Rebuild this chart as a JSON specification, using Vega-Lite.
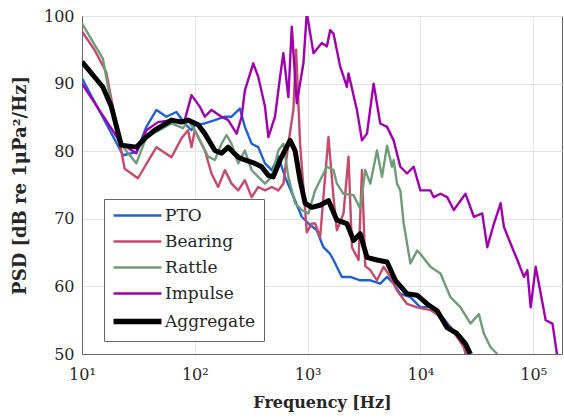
{
"$schema": "https://vega.github.io/schema/vega-lite/v6.json",
"width": 480, "height": 338,
"autosize": {"type": "none"},
"padding": {"left": 82, "top": 16, "right": 2, "bottom": 65},
"data": {"values": [
{"s":"PTO","f":10,"v":90.8},{"s":"PTO","f":23.1,"v":79.4},{"s":"PTO","f":27.4,"v":79.7},{"s":"PTO","f":30.3,"v":79.9},{"s":"PTO","f":37.2,"v":83.6},{"s":"PTO","f":45.7,"v":86.1},{"s":"PTO","f":56,"v":85.1},{"s":"PTO","f":68.7,"v":85.8},{"s":"PTO","f":81.5,"v":84.1},{"s":"PTO","f":93.5,"v":83.1},{"s":"PTO","f":100,"v":83.9},{"s":"PTO","f":122.7,"v":84.1},{"s":"PTO","f":150.6,"v":84.6},{"s":"PTO","f":184.8,"v":85.1},{"s":"PTO","f":211.7,"v":85.1},{"s":"PTO","f":251,"v":86.3},{"s":"PTO","f":278,"v":83.6},{"s":"PTO","f":319,"v":81.1},{"s":"PTO","f":365,"v":80.6},{"s":"PTO","f":419,"v":78.2},{"s":"PTO","f":481,"v":77.2},{"s":"PTO","f":550,"v":79.2},{"s":"PTO","f":631,"v":76.2},{"s":"PTO","f":774,"v":72.7},{"s":"PTO","f":888,"v":70.3},{"s":"PTO","f":1017,"v":69.3},{"s":"PTO","f":1207,"v":68.3},{"s":"PTO","f":1381,"v":65.8},{"s":"PTO","f":1585,"v":64.8},{"s":"PTO","f":1696,"v":63.9},{"s":"PTO","f":2014,"v":61.4},{"s":"PTO","f":2386,"v":61.4},{"s":"PTO","f":2928,"v":60.9},{"s":"PTO","f":3597,"v":60.9},{"s":"PTO","f":4406,"v":60.4},{"s":"PTO","f":5062,"v":61.4},{"s":"PTO","f":5790,"v":60.4},{"s":"PTO","f":6640,"v":58.9},{"s":"PTO","f":8150,"v":58.4},{"s":"PTO","f":10000,"v":56.9},{"s":"PTO","f":12270,"v":57.0},{"s":"PTO","f":15060,"v":55.8},{"s":"PTO","f":18480,"v":54.0},{"s":"PTO","f":21190,"v":52.6},{"s":"PTO","f":25120,"v":51.0},{"s":"PTO","f":26000,"v":50.0},
{"s":"Bearing","f":10,"v":97.7},{"s":"Bearing","f":12.9,"v":95},{"s":"Bearing","f":16.4,"v":91.7},{"s":"Bearing","f":23.9,"v":77.4},{"s":"Bearing","f":31.3,"v":76.0},{"s":"Bearing","f":45.7,"v":80.6},{"s":"Bearing","f":62.1,"v":79.1},{"s":"Bearing","f":76.2,"v":81.9},{"s":"Bearing","f":87.1,"v":83.1},{"s":"Bearing","f":93.5,"v":80.6},{"s":"Bearing","f":100,"v":83.1},{"s":"Bearing","f":122.7,"v":80.1},{"s":"Bearing","f":140.6,"v":76.7},{"s":"Bearing","f":161,"v":74.7},{"s":"Bearing","f":184.8,"v":77.2},{"s":"Bearing","f":211.7,"v":75.2},{"s":"Bearing","f":242.7,"v":74.2},{"s":"Bearing","f":278,"v":75.7},{"s":"Bearing","f":319,"v":73.2},{"s":"Bearing","f":365,"v":74.7},{"s":"Bearing","f":419,"v":74.2},{"s":"Bearing","f":481,"v":74.7},{"s":"Bearing","f":550,"v":74.2},{"s":"Bearing","f":610,"v":75.2},{"s":"Bearing","f":675,"v":81.1},{"s":"Bearing","f":748,"v":86.1},{"s":"Bearing","f":791,"v":95.0},{"s":"Bearing","f":858,"v":81.1},{"s":"Bearing","f":951,"v":71.3},{"s":"Bearing","f":984,"v":68.0},{"s":"Bearing","f":1089,"v":69.3},{"s":"Bearing","f":1166,"v":69.3},{"s":"Bearing","f":1292,"v":67.3},{"s":"Bearing","f":1381,"v":73.2},{"s":"Bearing","f":1531,"v":82.1},{"s":"Bearing","f":1696,"v":73.2},{"s":"Bearing","f":1818,"v":68.3},{"s":"Bearing","f":2082,"v":70.8},{"s":"Bearing","f":2305,"v":79.2},{"s":"Bearing","f":2471,"v":65.8},{"s":"Bearing","f":2831,"v":63.9},{"s":"Bearing","f":3033,"v":77.2},{"s":"Bearing","f":3245,"v":63.0},{"s":"Bearing","f":3597,"v":62.4},{"s":"Bearing","f":4121,"v":60.9},{"s":"Bearing","f":4724,"v":62.9},{"s":"Bearing","f":5411,"v":61.4},{"s":"Bearing","f":6206,"v":59.4},{"s":"Bearing","f":7620,"v":57.4},{"s":"Bearing","f":9352,"v":56.9},{"s":"Bearing","f":12270,"v":56.5},{"s":"Bearing","f":15060,"v":55.5},{"s":"Bearing","f":18480,"v":53.8},{"s":"Bearing","f":21190,"v":52.5},{"s":"Bearing","f":24270,"v":51.0},{"s":"Bearing","f":25120,"v":50.0},
{"s":"Rattle","f":10,"v":98.9},{"s":"Rattle","f":15.3,"v":93.7},{"s":"Rattle","f":20.8,"v":81.6},{"s":"Rattle","f":30.3,"v":78.2},{"s":"Rattle","f":37.2,"v":82.1},{"s":"Rattle","f":45.7,"v":82.9},{"s":"Rattle","f":62.1,"v":84.1},{"s":"Rattle","f":78.7,"v":83.4},{"s":"Rattle","f":87.1,"v":84.6},{"s":"Rattle","f":100,"v":83.1},{"s":"Rattle","f":114.7,"v":81.1},{"s":"Rattle","f":131.3,"v":79.2},{"s":"Rattle","f":150.6,"v":78.7},{"s":"Rattle","f":172.6,"v":81.1},{"s":"Rattle","f":191,"v":82.4},{"s":"Rattle","f":211.7,"v":81.1},{"s":"Rattle","f":242.7,"v":78.2},{"s":"Rattle","f":278,"v":80.1},{"s":"Rattle","f":319,"v":77.2},{"s":"Rattle","f":365,"v":76.2},{"s":"Rattle","f":419,"v":75.2},{"s":"Rattle","f":481,"v":76.2},{"s":"Rattle","f":550,"v":80.1},{"s":"Rattle","f":610,"v":81.1},{"s":"Rattle","f":675,"v":76.2},{"s":"Rattle","f":774,"v":72.3},{"s":"Rattle","f":888,"v":71.3},{"s":"Rattle","f":1017,"v":70.8},{"s":"Rattle","f":1166,"v":74.2},{"s":"Rattle","f":1292,"v":75.7},{"s":"Rattle","f":1482,"v":77.7},{"s":"Rattle","f":1696,"v":77.2},{"s":"Rattle","f":1818,"v":75.2},{"s":"Rattle","f":2082,"v":73.7},{"s":"Rattle","f":2553,"v":73.5},{"s":"Rattle","f":2928,"v":71.5},{"s":"Rattle","f":3245,"v":77.2},{"s":"Rattle","f":3597,"v":75.2},{"s":"Rattle","f":4121,"v":80.1},{"s":"Rattle","f":4567,"v":76.2},{"s":"Rattle","f":5062,"v":80.8},{"s":"Rattle","f":5598,"v":77.7},{"s":"Rattle","f":5790,"v":78.7},{"s":"Rattle","f":6206,"v":75.2},{"s":"Rattle","f":6640,"v":74.2},{"s":"Rattle","f":7111,"v":69.3},{"s":"Rattle","f":8150,"v":63.4},{"s":"Rattle","f":9352,"v":65.3},{"s":"Rattle","f":10000,"v":64.8},{"s":"Rattle","f":12270,"v":62.9},{"s":"Rattle","f":15060,"v":61.9},{"s":"Rattle","f":18480,"v":58.4},{"s":"Rattle","f":22680,"v":56.9},{"s":"Rattle","f":27800,"v":54.5},{"s":"Rattle","f":32970,"v":55.9},{"s":"Rattle","f":36540,"v":53.0},{"s":"Rattle","f":41920,"v":51.0},{"s":"Rattle","f":48080,"v":50.0},
{"s":"Impulse","f":10,"v":90.0},{"s":"Impulse","f":22.3,"v":81.1},{"s":"Impulse","f":30.3,"v":79.7},{"s":"Impulse","f":37.2,"v":83.1},{"s":"Impulse","f":47.2,"v":84.3},{"s":"Impulse","f":62.1,"v":84.6},{"s":"Impulse","f":81.5,"v":84.6},{"s":"Impulse","f":93.5,"v":88.3},{"s":"Impulse","f":110.7,"v":86.6},{"s":"Impulse","f":122.7,"v":85.1},{"s":"Impulse","f":140.6,"v":86.1},{"s":"Impulse","f":172.6,"v":85.1},{"s":"Impulse","f":197.7,"v":84.6},{"s":"Impulse","f":234.8,"v":82.6},{"s":"Impulse","f":260,"v":85.1},{"s":"Impulse","f":278,"v":89.0},{"s":"Impulse","f":330,"v":93.0},{"s":"Impulse","f":365,"v":91.0},{"s":"Impulse","f":419,"v":86.6},{"s":"Impulse","f":449,"v":82.1},{"s":"Impulse","f":514,"v":85.1},{"s":"Impulse","f":570,"v":91.0},{"s":"Impulse","f":610,"v":94.5},{"s":"Impulse","f":675,"v":88.0},{"s":"Impulse","f":724,"v":98.4},{"s":"Impulse","f":802,"v":87.1},{"s":"Impulse","f":918,"v":93.0},{"s":"Impulse","f":984,"v":100.5},{"s":"Impulse","f":1127,"v":94.5},{"s":"Impulse","f":1337,"v":96.0},{"s":"Impulse","f":1482,"v":95.5},{"s":"Impulse","f":1585,"v":97.9},{"s":"Impulse","f":1696,"v":97.4},{"s":"Impulse","f":1946,"v":92.5},{"s":"Impulse","f":2230,"v":89.5},{"s":"Impulse","f":2305,"v":91.5},{"s":"Impulse","f":2737,"v":86.1},{"s":"Impulse","f":3033,"v":81.6},{"s":"Impulse","f":3359,"v":82.6},{"s":"Impulse","f":3848,"v":90.0},{"s":"Impulse","f":4406,"v":84.1},{"s":"Impulse","f":5062,"v":83.6},{"s":"Impulse","f":5790,"v":81.6},{"s":"Impulse","f":6640,"v":77.7},{"s":"Impulse","f":7620,"v":76.7},{"s":"Impulse","f":8716,"v":77.7},{"s":"Impulse","f":10000,"v":74.2},{"s":"Impulse","f":12270,"v":74.2},{"s":"Impulse","f":13130,"v":73.2},{"s":"Impulse","f":15060,"v":73.7},{"s":"Impulse","f":17260,"v":73.2},{"s":"Impulse","f":19780,"v":71.3},{"s":"Impulse","f":25120,"v":73.7},{"s":"Impulse","f":29770,"v":70.3},{"s":"Impulse","f":35330,"v":70.8},{"s":"Impulse","f":39160,"v":65.8},{"s":"Impulse","f":44880,"v":69.3},{"s":"Impulse","f":51420,"v":72.3},{"s":"Impulse","f":55000,"v":68.8},{"s":"Impulse","f":63100,"v":66.3},{"s":"Impulse","f":72400,"v":63.9},{"s":"Impulse","f":82800,"v":61.4},{"s":"Impulse","f":88700,"v":62.4},{"s":"Impulse","f":95000,"v":56.9},{"s":"Impulse","f":105200,"v":62.9},{"s":"Impulse","f":116600,"v":58.9},{"s":"Impulse","f":129100,"v":55.0},{"s":"Impulse","f":148200,"v":54.5},{"s":"Impulse","f":164100,"v":49.5},
{"s":"Aggregate","f":10,"v":93.2},{"s":"Aggregate","f":15.3,"v":89.5},{"s":"Aggregate","f":18.2,"v":86.6},{"s":"Aggregate","f":22.3,"v":80.9},{"s":"Aggregate","f":30.3,"v":80.6},{"s":"Aggregate","f":37.2,"v":82.1},{"s":"Aggregate","f":44.1,"v":83.1},{"s":"Aggregate","f":62.1,"v":84.6},{"s":"Aggregate","f":76.2,"v":84.3},{"s":"Aggregate","f":87.1,"v":84.6},{"s":"Aggregate","f":107,"v":83.9},{"s":"Aggregate","f":122.7,"v":82.6},{"s":"Aggregate","f":150.6,"v":80.1},{"s":"Aggregate","f":172.6,"v":79.7},{"s":"Aggregate","f":197.7,"v":80.6},{"s":"Aggregate","f":242.7,"v":79.1},{"s":"Aggregate","f":278,"v":78.7},{"s":"Aggregate","f":341,"v":78.2},{"s":"Aggregate","f":391,"v":77.7},{"s":"Aggregate","f":449,"v":76.4},{"s":"Aggregate","f":497,"v":76.2},{"s":"Aggregate","f":570,"v":78.7},{"s":"Aggregate","f":699,"v":81.6},{"s":"Aggregate","f":774,"v":80.1},{"s":"Aggregate","f":858,"v":75.7},{"s":"Aggregate","f":951,"v":72.3},{"s":"Aggregate","f":1089,"v":71.7},{"s":"Aggregate","f":1292,"v":72.0},{"s":"Aggregate","f":1531,"v":72.7},{"s":"Aggregate","f":1818,"v":69.8},{"s":"Aggregate","f":2230,"v":69.3},{"s":"Aggregate","f":2553,"v":66.8},{"s":"Aggregate","f":2928,"v":67.8},{"s":"Aggregate","f":3359,"v":64.3},{"s":"Aggregate","f":4121,"v":63.9},{"s":"Aggregate","f":5062,"v":63.6},{"s":"Aggregate","f":5995,"v":60.9},{"s":"Aggregate","f":7620,"v":58.9},{"s":"Aggregate","f":9352,"v":58.7},{"s":"Aggregate","f":11470,"v":57.4},{"s":"Aggregate","f":14070,"v":56.4},{"s":"Aggregate","f":17260,"v":53.9},{"s":"Aggregate","f":21190,"v":53.0},{"s":"Aggregate","f":25120,"v":51.5},{"s":"Aggregate","f":27800,"v":50.0}
]},
"encoding": {
  "x": {"field": "f", "type": "quantitative", "scale": {"type": "log", "domain": [10, 180000], "nice": false},
        "axis": {"title": "Frequency [Hz]", "values": [10, 100, 1000, 10000, 100000],
                 "labelExpr": "'10' + ['⁰','¹','²','³','⁴','⁵','⁶'][round(log(datum.value)/LN10)]",
                 "labelPadding": 12, "titlePadding": 12, "labelFlush": false, "titleFontSize": 16}},
  "y": {"field": "v", "type": "quantitative", "scale": {"domain": [50, 100], "nice": false},
        "axis": {"title": "PSD [dB re 1μPa²/Hz]", "values": [50, 60, 70, 80, 90, 100], "labelPadding": 8, "titlePadding": 14, "titleFontSize": 18}},
  "color": {"field": "s", "type": "nominal",
            "scale": {"domain": ["PTO", "Bearing", "Rattle", "Impulse", "Aggregate"], "range": ["#1f62d6", "#c44b6b", "#6f9c78", "#9e00ab", "#000000"]},
            "legend": {"title": null, "labelFont": "DejaVu Serif", "labelFontSize": 17, "symbolOffset": 17, "labelOffset": 19, "rowPadding": 8,
                       "encode": {"symbols": {"update": {"strokeWidth": {"signal": "datum.value == 'Aggregate' ? 5.5 : 2.5"}}},
                                  "labels": {"update": {"font": {"value": "DejaVu Serif"}}}}}}
},
"layer": [
  {"transform": [{"filter": "datum.s != 'Aggregate'"}], "mark": {"type": "line", "clip": true, "strokeJoin": "round", "strokeWidth": 2.4}},
  {"transform": [{"filter": "datum.s == 'Aggregate'"}], "mark": {"type": "line", "clip": true, "strokeJoin": "round", "strokeWidth": 5}}
],
"config": {
  "font": "DejaVu Serif",
  "view": {"stroke": "#666666", "strokeWidth": 1},
  "axis": {"gridColor": "#e3e3e3", "domainColor": "#666666", "labelColor": "#262626", "labelFontSize": 16, "labelFont": "DejaVu Serif",
           "titleFontSize": 15, "titleFontWeight": "bold", "titleColor": "#262626", "titleFont": "DejaVu Serif", "ticks": false},
  "legend": {"orient": "none", "legendX": 22, "legendY": 183, "fillColor": "#ffffff", "strokeColor": "#666666", "padding": 8,
             "labelFont": "DejaVu Serif", "labelFontSize": 17, "labelColor": "#262626", "symbolType": "stroke", "symbolSize": 2300}
}
}
